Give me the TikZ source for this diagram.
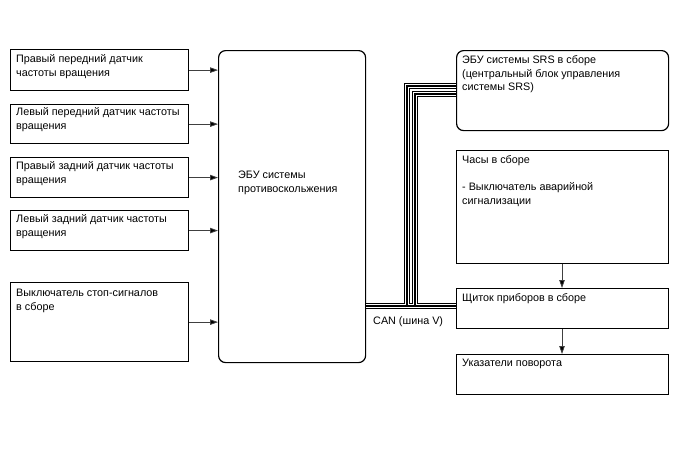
\documentclass[tikz,border=0pt]{standalone}
\usepackage{fontspec}
\setmainfont{Liberation Sans}
\usetikzlibrary{arrows.meta}
\begin{document}
\begin{tikzpicture}[x=1pt,y=-1pt,
  box/.style={draw=black,line width=1.2pt,anchor=north west,inner sep=0pt,fill=white},
  rbox/.style={box,rounded corners=7pt},
  txt/.style={anchor=north west,inner sep=0pt,align=left,font=\fontsize{10.8}{13.5}\selectfont},
  arr/.style={line width=0.8pt,draw=black!75,-{Triangle[length=8pt,width=5.5pt,fill=black]}},
  busout/.style={line width=6pt,draw=black},
  busmid/.style={line width=3.4pt,draw=white},
  busin/.style={line width=1.1pt,draw=black}]
\useasboundingbox (0,0) rectangle (688,463);
% left boxes
\node[box,minimum width=178pt,minimum height=41pt] (l1) at (10,49) {};
\node[box,minimum width=178pt,minimum height=39pt] (l2) at (10,104) {};
\node[box,minimum width=178pt,minimum height=40pt] (l3) at (10,157) {};
\node[box,minimum width=178pt,minimum height=40pt] (l4) at (10,210) {};
\node[box,minimum width=178pt,minimum height=79pt] (l5) at (10,282) {};
\node[txt] (t1) at (16,53) {\strut Правый передний датчик\\частоты вращения};
\node[txt] (t2) at (16,106) {\strut Левый передний датчик частоты\\вращения};
\node[txt] (t3) at (16,160) {\strut Правый задний датчик частоты\\вращения};
\node[txt] (t4) at (16,213) {\strut Левый задний датчик частоты\\вращения};
\node[txt] (t5) at (16,287) {\strut Выключатель стоп-сигналов\\в сборе};
% ECU
\node[rbox,minimum width=147pt,minimum height=312pt] (ecu) at (218,50) {};
\node[txt] (te) at (238,169) {\strut ЭБУ системы\\противоскольжения};
% right boxes
\node[rbox,minimum width=212pt,minimum height=80pt] (srs) at (456,50) {};
\node[box,minimum width=212pt,minimum height=113pt] (clk) at (456,150) {};
\node[box,minimum width=212pt,minimum height=40pt] (pan) at (456,288) {};
\node[box,minimum width=212pt,minimum height=40pt] (turn) at (456,354) {};
\node[txt] (ts) at (462,54) {\strut ЭБУ системы SRS в сборе\\(центральный блок управления\\системы SRS)};
\node[txt] (tc) at (462,154) {\strut Часы в сборе\\ \\- Выключатель аварийной\\сигнализации};
\node[txt] (tp) at (462,292) {\strut Щиток приборов в сборе};
\node[txt] (tt) at (462,357) {\strut Указатели поворота};
% arrows
\foreach \n in {l1,l2,l3,l4,l5}
  \draw[arr] (\n.east) -- (\n.east -| ecu.west);
\draw[arr] (clk.south -| 562,0) -- (pan.north -| 562,0);
\draw[arr] (pan.south -| 562,0) -- (turn.north -| 562,0);
% CAN bus
\coordinate (a1) at (407,306);
\coordinate (a2) at (407,86);
\coordinate (b1) at (415,306);
\coordinate (b2) at (415,94);
\foreach \s in {busout,busmid,busin}{
  \draw[\s] (ecu.east |- a1) -- (pan.west |- a1);
  \draw[\s] (a1) -- (a2) -- (srs.west |- a2);
  \draw[\s] (b1) -- (b2) -- (srs.west |- b2);
}
\node[txt] (can) at (373,315) {\strut CAN (шина V)};
\end{tikzpicture}
\end{document}
